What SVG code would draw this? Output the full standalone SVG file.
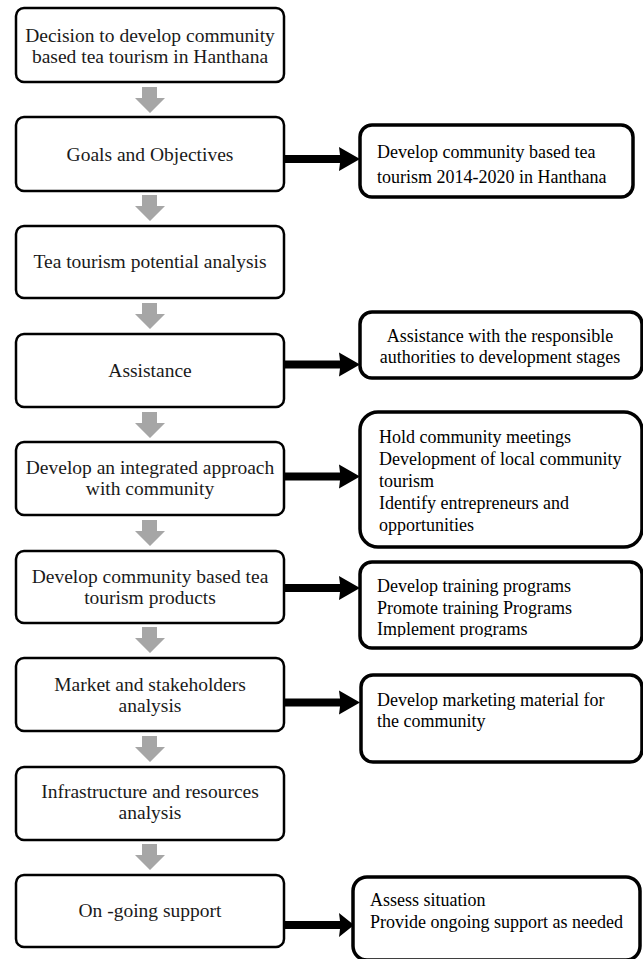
<svg xmlns="http://www.w3.org/2000/svg" width="643" height="959" viewBox="0 0 643 959">
<style>
.lbox{fill:#fff;stroke:#000;stroke-width:2.5}
.rbox{fill:#fff;stroke:#000;stroke-width:3.5}
.lt{font-family:"Liberation Serif","Times New Roman",serif;font-size:19.5px;fill:#1a1a1a;text-anchor:middle}
.rt{font-family:"Liberation Serif","Times New Roman",serif;font-size:18px;fill:#000}
.gray{fill:#a6a6a6}
.blk{fill:#000}
</style>
<defs>
<clipPath id="clip4"><rect x="360" y="562" width="282" height="75"/></clipPath>
</defs>
<rect width="643" height="959" fill="#fff"/>
<g id="connectors">
<polygon class="gray" points="142,87 157,87 157,98 165,98 150,113 135,98 142,98"/>
<polygon class="gray" points="142,195 157,195 157,206 165,206 150,221 135,206 142,206"/>
<polygon class="gray" points="142,303 157,303 157,314 165,314 150,329 135,314 142,314"/>
<polygon class="gray" points="142,412 157,412 157,423 165,423 150,438 135,423 142,423"/>
<polygon class="gray" points="142,520 157,520 157,531 165,531 150,546 135,531 142,531"/>
<polygon class="gray" points="142,627 157,627 157,638 165,638 150,653 135,638 142,638"/>
<polygon class="gray" points="142,736 157,736 157,747 165,747 150,762 135,747 142,747"/>
<polygon class="gray" points="142,844 157,844 157,855 165,855 150,870 135,855 142,855"/>
<polygon class="blk" points="277,155 340,155 339,147 360,159 339,171 340,163 277,163"/>
<polygon class="blk" points="277,360.5 340,360.5 339,352.5 360,364.5 339,376.5 340,368.5 277,368.5"/>
<polygon class="blk" points="277,472.5 340,472.5 339,464.5 360,476.5 339,488.5 340,480.5 277,480.5"/>
<polygon class="blk" points="277,584 340,584 339,576 360,588 339,600 340,592 277,592"/>
<polygon class="blk" points="277,698.5 340,698.5 339,690.5 360,702.5 339,714.5 340,706.5 277,706.5"/>
<polygon class="blk" points="277,921 340,921 339,913 354,925 339,937 340,929 277,929"/>
</g>
<g id="n1"><rect class="lbox" x="16" y="8" width="268" height="74" rx="8"/><text class="lt" x="150" y="42">Decision to develop community</text><text class="lt" x="150" y="63">based tea tourism in Hanthana</text></g>
<g id="n2"><rect class="lbox" x="16" y="117" width="268" height="74" rx="8"/><text class="lt" x="150" y="161">Goals and Objectives</text></g>
<g id="n3"><rect class="lbox" x="16" y="226" width="268" height="72" rx="8"/><text class="lt" x="150" y="268">Tea tourism potential analysis</text></g>
<g id="n4"><rect class="lbox" x="16" y="334" width="268" height="73" rx="8"/><text class="lt" x="150" y="377">Assistance</text></g>
<g id="n5"><rect class="lbox" x="16" y="442" width="268" height="73" rx="8"/><text class="lt" x="150" y="474">Develop an integrated approach</text><text class="lt" x="150" y="495">with community</text></g>
<g id="n6"><rect class="lbox" x="16" y="551" width="268" height="72" rx="8"/><text class="lt" x="150" y="583">Develop community based tea</text><text class="lt" x="150" y="604">tourism products</text></g>
<g id="n7"><rect class="lbox" x="16" y="658" width="268" height="73" rx="8"/><text class="lt" x="150" y="691">Market and stakeholders</text><text class="lt" x="150" y="712">analysis</text></g>
<g id="n8"><rect class="lbox" x="16" y="767" width="268" height="73" rx="8"/><text class="lt" x="150" y="798">Infrastructure and resources</text><text class="lt" x="150" y="819">analysis</text></g>
<g id="n9"><rect class="lbox" x="16" y="875" width="268" height="72" rx="8"/><text class="lt" x="150" y="917">On -going support</text></g>
<g id="r1"><rect class="rbox" x="360" y="125" width="273" height="72" rx="12"/><text class="rt" x="377" y="158">Develop community based tea</text><text class="rt" x="377" y="183">tourism 2014-2020 in Hanthana</text></g>
<g id="r2"><rect class="rbox" x="360" y="312" width="282" height="66" rx="12"/><text class="rt" x="500" y="342" text-anchor="middle">Assistance with the responsible</text><text class="rt" x="500" y="363" text-anchor="middle">authorities to development stages</text></g>
<g id="r3"><rect class="rbox" x="360" y="412" width="282" height="135" rx="18"/><text class="rt" x="379" y="443">Hold community meetings</text><text class="rt" x="379" y="465">Development of local community</text><text class="rt" x="379" y="487">tourism</text><text class="rt" x="379" y="509">Identify entrepreneurs and</text><text class="rt" x="379" y="531">opportunities</text></g>
<g id="r4"><rect class="rbox" x="360" y="562" width="282" height="86" rx="12"/><g clip-path="url(#clip4)"><text class="rt" x="377" y="592">Develop training programs</text><text class="rt" x="377" y="614">Promote training Programs</text><text class="rt" x="377" y="635">Implement programs</text></g></g>
<g id="r5"><rect class="rbox" x="361" y="675" width="281" height="87" rx="12"/><text class="rt" x="377" y="706">Develop marketing material for</text><text class="rt" x="377" y="727">the community</text></g>
<g id="r6"><rect class="rbox" x="353" y="877" width="287" height="83" rx="14"/><text class="rt" x="370" y="906">Assess situation</text><text class="rt" x="370" y="928">Provide ongoing support as needed</text></g>
</svg>
